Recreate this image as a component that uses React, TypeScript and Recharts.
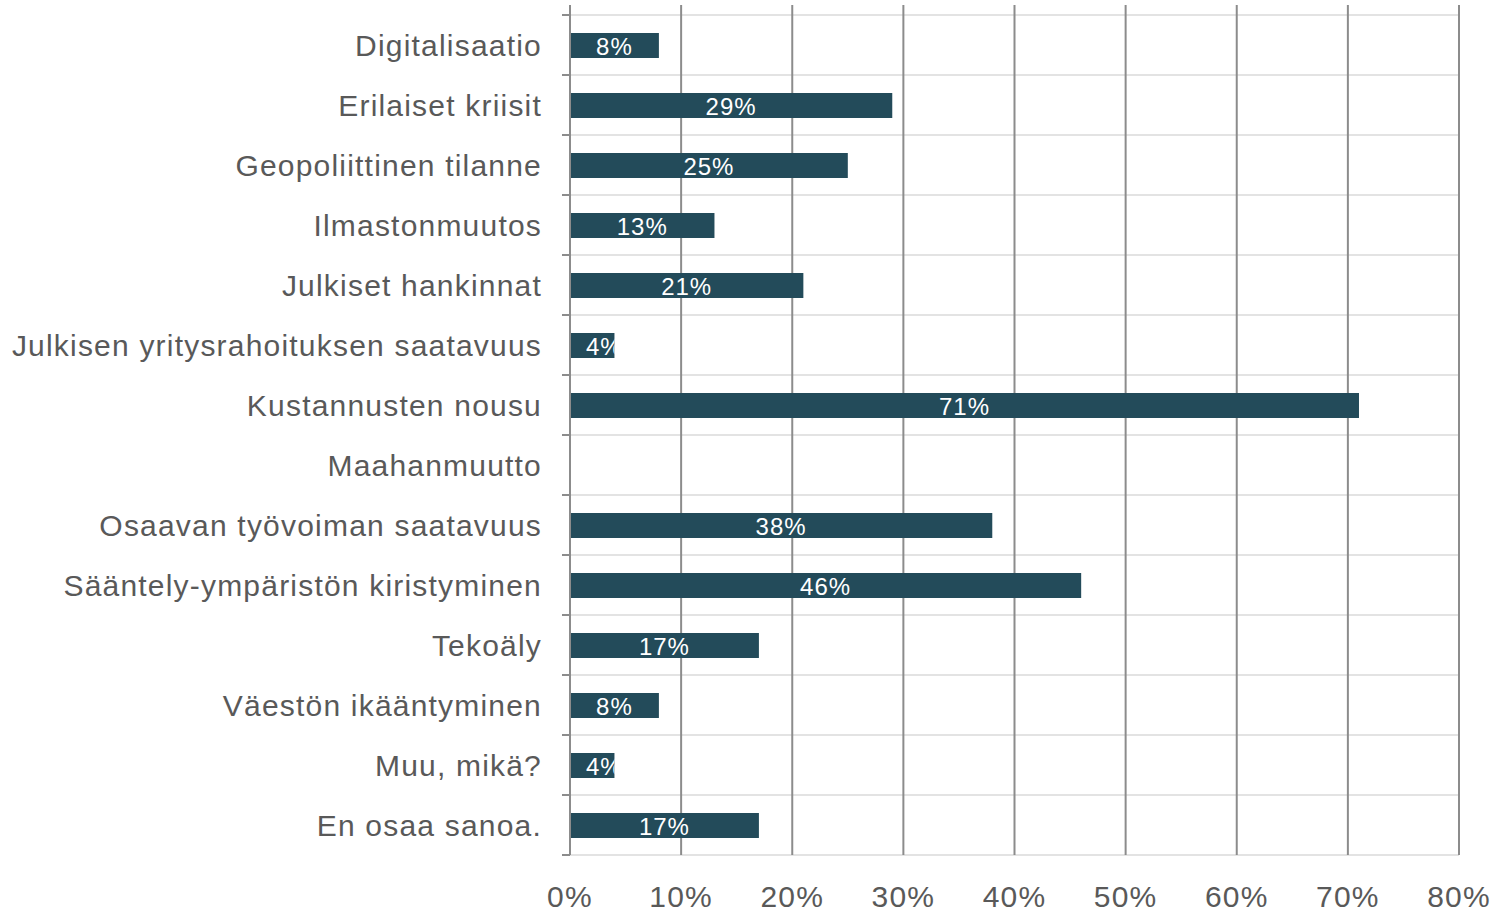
import { Bar, BarChart, CartesianGrid, LabelList, XAxis, YAxis } from "recharts";

const categories = [
  "Digitalisaatio",
  "Erilaiset kriisit",
  "Geopoliittinen tilanne",
  "Ilmastonmuutos",
  "Julkiset hankinnat",
  "Julkisen yritysrahoituksen saatavuus",
  "Kustannusten nousu",
  "Maahanmuutto",
  "Osaavan työvoiman saatavuus",
  "Sääntely-ympäristön kiristyminen",
  "Tekoäly",
  "Väestön ikääntyminen",
  "Muu, mikä?",
  "En osaa sanoa.",
];
const shares = [8, 29, 25, 13, 21, 4, 71, 0, 38, 46, 17, 8, 4, 17];
const xTicks = [0, 10, 20, 30, 40, 50, 60, 70, 80];

const data = categories.map((name, i) => ({ name, value: shares[i] }));

const W = 1495;
const H = 914;
const xAxisHeight = 59;
const topPad = 10;
const margin = { top: 5, right: 36, bottom: 0, left: 0 };
const band = (H - margin.top - topPad - xAxisHeight) / categories.length;
const text = "#595959";
const axisGray = "#8c8c8c";
const font = "'Liberation Sans', Arial, sans-serif";

function CategoryTick(props: any) {
  const { x, y, payload, index } = props;
  const top = y - band / 2;
  return (
    <g>
      <line x1={x + 20} x2={x + 28} y1={top} y2={top} stroke={axisGray} strokeWidth={2} />
      {index === categories.length - 1 && (
        <line x1={x + 20} x2={x + 28} y1={y + band / 2} y2={y + band / 2} stroke={axisGray} strokeWidth={2} />
      )}
      <text
        x={x}
        y={y}
        dy="0.36em"
        textAnchor="end"
        fill={text}
        fontSize={30}
        letterSpacing={1.2}
        fontFamily={font}
      >
        {payload.value}
      </text>
    </g>
  );
}

function BarLabel(props: any) {
  const { x, y, width, height, value, index } = props;
  if (!value) return null;
  const id = `clip-${index}`;
  const label = `${value}%`;
  const tw = (label.length - 1) * 13.3 + 21.3 + label.length;
  const cx = Math.max(x + width / 2, x + 16 + tw / 2);
  return (
    <g>
      <clipPath id={id}>
        <rect x={x} y={y} width={width} height={height} />
      </clipPath>
      <text
        x={cx}
        y={y + height / 2}
        dy="0.4em"
        textAnchor="middle"
        fill="#ffffff"
        fontSize={24}
        letterSpacing={1}
        fontFamily={font}
        clipPath={`url(#${id})`}
      >
        {label}
      </text>
    </g>
  );
}

export default function App() {
  return (
    <div style={{ position: "absolute", left: 0, top: 0, background: "#fff" }}>
      <BarChart width={W} height={H} data={data} layout="vertical" margin={margin}>
        <CartesianGrid
          horizontal={true}
          vertical={false}
          stroke="#e3e3e3"
          strokeWidth={2}
          horizontalCoordinatesGenerator={({ offset }: any) =>
            categories
              .map((_, i) => offset.top + topPad + i * band)
              .concat(offset.top + topPad + categories.length * band)
          }
        />
        <CartesianGrid horizontal={false} vertical={true} stroke={axisGray} strokeWidth={2} />
        <XAxis
          type="number"
          domain={[0, 80]}
          ticks={xTicks}
          interval={0}
          height={xAxisHeight}
          axisLine={false}
          tickLine={false}
          tickSize={0}
          tickMargin={31}
          tickFormatter={(v: number) => `${v}%`}
          tick={{ fill: text, fontSize: 30, fontFamily: font, letterSpacing: 1.2 }}
        />
        <YAxis
          type="category"
          dataKey="name"
          width={570}
          interval={0}
          padding={{ top: topPad, bottom: 0 }}
          axisLine={{ stroke: axisGray, strokeWidth: 2 }}
          tickLine={false}
          tickSize={0}
          tickMargin={28}
          tick={<CategoryTick />}
        />
        <Bar dataKey="value" fill="#234b5a" barSize={25} isAnimationActive={false}>
          <LabelList dataKey="value" content={<BarLabel />} />
        </Bar>
      </BarChart>
    </div>
  );
}
